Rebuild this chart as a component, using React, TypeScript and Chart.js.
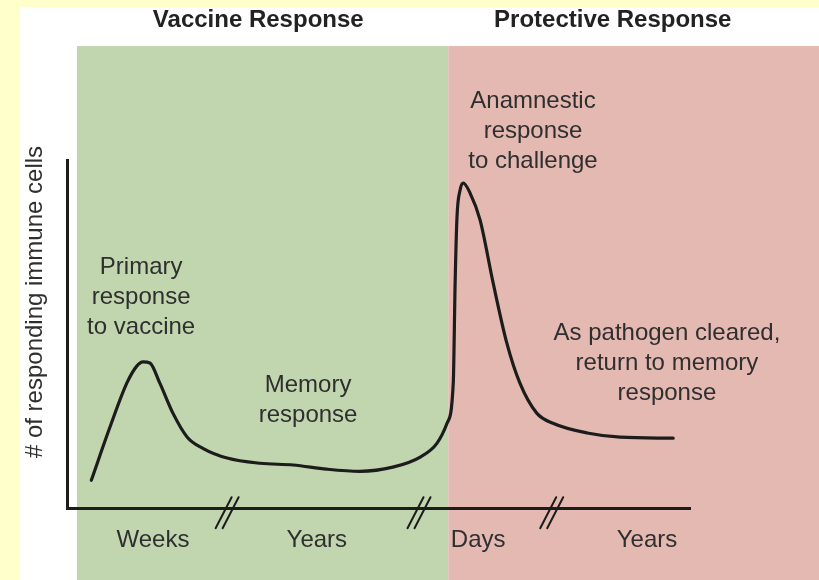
import React, { useEffect, useRef } from "react";
import { Chart, registerables } from "chart.js";

Chart.register(...registerables);

// ---- data ----
// time axis in arbitrary "broken" units (0..100 across the drawn x axis)
const TIME = [3.9, 6.9, 9.6, 11.2, 12.2, 13.3, 14.9, 17.0, 19.3, 21.8, 25.7, 31.0, 36.3, 41.7, 47.0, 52.3, 56.7, 59.4, 61.0, 62.0, 62.3, 62.6, 63.1, 63.6, 64.7, 66.3, 68.4, 70.6, 72.7, 75.4, 78.0, 83.5, 88.8, 97.3];
// relative number of responding immune cells (0..100)
const CELLS = [8.0, 23.3, 35.9, 40.8, 42.0, 41.7, 35.9, 27.3, 20.4, 17.2, 14.4, 12.9, 12.4, 11.2, 10.6, 11.8, 14.7, 18.7, 24.4, 35.9, 64.7, 83.6, 91.4, 93.4, 90.5, 82.8, 64.7, 47.4, 35.9, 27.3, 24.4, 21.6, 20.4, 20.1];

const SEGMENT_LABELS = ["Weeks", "Years", "Days", "Years"];
const SEGMENT_TIME = [13.8, 40.1, 66.0, 93.1];
const BREAK_TIME = [25.7, 56.5, 77.8];

const PHASES = ["Vaccine Response", "Protective Response"];
const PHASE_START = [1.6, 61.2];

const Y_TITLE = "# of responding immune cells";

const NOTES = [
  ["Primary", "response", "to vaccine"],
  ["Memory", "response"],
  ["Anamnestic", "response", "to challenge"],
  ["As pathogen cleared,", "return to memory", "response"],
];

// ---- styling / placement (not data) ----
const W = 819;
const H = 580;
const FONT = "'Liberation Sans', Arial, Helvetica, sans-serif";
const YELLOW = "#ffffcc";
const GREEN = "#c1d6af";
const PINK = "#e3b9b1";
const INK = "#1c1c1c";
const TEXT = "#2f2f2f";
const NOTE_ANCHORS = [
  { x: 11.9, y: 67.2 },
  { x: 38.7, y: 33.3 },
  { x: 74.8, y: 114.9 },
  { x: 96.3, y: 48.3 },
];
const PHASE_TITLE_X = [30.7, 87.6];

const decorPlugin = {
  id: "decor",
  beforeDraw(chart: any) {
    const ctx = chart.ctx;
    const xs = chart.scales.x;
    ctx.save();
    ctx.fillStyle = YELLOW;
    ctx.fillRect(0, 0, W, H);
    ctx.fillStyle = "#ffffff";
    ctx.fillRect(20, 7, W - 20, H - 7);
    const g0 = xs.getPixelForValue(PHASE_START[0]);
    const g1 = xs.getPixelForValue(PHASE_START[1]);
    ctx.fillStyle = GREEN;
    ctx.fillRect(g0, 46, g1 - g0, H - 46);
    ctx.fillStyle = PINK;
    ctx.fillRect(g1, 46, W - g1, H - 46);

    // phase titles
    ctx.fillStyle = "#222222";
    ctx.font = `bold 24px ${FONT}`;
    ctx.textAlign = "center";
    ctx.textBaseline = "alphabetic";
    PHASES.forEach((t, i) => {
      ctx.fillText(t, xs.getPixelForValue(PHASE_TITLE_X[i]), 27);
    });

    // y title
    ctx.font = `24px ${FONT}`;
    ctx.fillStyle = TEXT;
    ctx.translate(42, 302);
    ctx.rotate(-Math.PI / 2);
    ctx.fillText(Y_TITLE, 0, 0);
    ctx.restore();
  },
  afterDraw(chart: any) {
    const ctx = chart.ctx;
    const xs = chart.scales.x;
    const ys = chart.scales.y;
    ctx.save();
    // notes
    ctx.fillStyle = TEXT;
    ctx.font = `24px ${FONT}`;
    ctx.textAlign = "center";
    ctx.textBaseline = "alphabetic";
    NOTES.forEach((lines, i) => {
      const px = xs.getPixelForValue(NOTE_ANCHORS[i].x);
      const py = ys.getPixelForValue(NOTE_ANCHORS[i].y);
      lines.forEach((l, j) => ctx.fillText(l, px, py + j * 30));
    });
    // axis breaks
    const axisY = chart.chartArea.bottom;
    ctx.strokeStyle = INK;
    ctx.lineWidth = 2;
    ctx.lineCap = "round";
    BREAK_TIME.forEach((t) => {
      const cx = xs.getPixelForValue(t);
      [-3.5, 3.5].forEach((off) => {
        ctx.beginPath();
        ctx.moveTo(cx + off - 8, axisY + 20);
        ctx.lineTo(cx + off + 8, axisY - 11);
        ctx.stroke();
      });
    });
    ctx.restore();
  },
};

export default function App() {
  const ref = useRef<HTMLCanvasElement | null>(null);
  useEffect(() => {
    if (!ref.current) return;
    const chart = new Chart(ref.current, {
      type: "line",
      data: {
        datasets: [
          {
            label: "Responding immune cells",
            data: TIME.map((t, i) => ({ x: t, y: CELLS[i] })),
            borderColor: INK,
            borderWidth: 3.2,
            pointRadius: 0,
            cubicInterpolationMode: "monotone",
            borderCapStyle: "round",
            borderJoinStyle: "round",
            fill: false,
          },
        ],
      },
      options: {
        animation: false,
        responsive: false,
        devicePixelRatio: 1,
        layout: { padding: { left: 67, right: 129, top: 160, bottom: 7 } },
        plugins: { legend: { display: false }, tooltip: { enabled: false } },
        scales: {
          x: {
            type: "linear",
            min: 0,
            max: 100,
            grid: { display: false, drawTicks: false },
            border: { display: true, color: INK, width: 3 },
            afterBuildTicks: (s: any) => {
              s.ticks = SEGMENT_TIME.map((v) => ({ value: v }));
            },
            ticks: {
              autoSkip: false,
              maxRotation: 0,
              padding: 18,
              color: TEXT,
              font: { family: FONT, size: 24 },
              callback: (v: any) => {
                const i = SEGMENT_TIME.indexOf(Number(v));
                return i >= 0 ? SEGMENT_LABELS[i] : "";
              },
            },
          },
          y: {
            type: "linear",
            min: 0,
            max: 100,
            grid: { display: false, drawTicks: false },
            border: { display: true, color: INK, width: 3 },
            ticks: { display: false },
          },
        },
      },
      plugins: [decorPlugin],
    } as any);
    return () => chart.destroy();
  }, []);
  return (
    <div style={{ position: "fixed", left: 0, top: 0, width: W, height: H }}>
      <canvas ref={ref} width={W} height={H} style={{ width: W, height: H, display: "block" }} />
    </div>
  );
}
